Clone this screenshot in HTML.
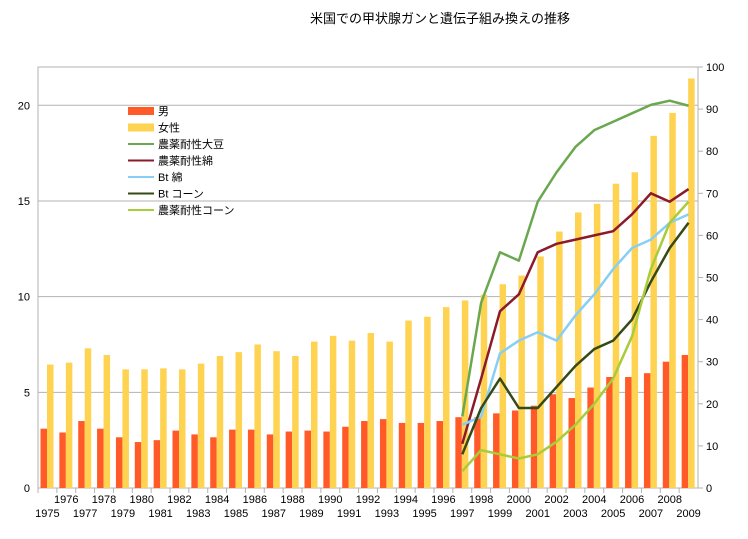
<!DOCTYPE html>
<html><head><meta charset="utf-8"><style>
body{margin:0;background:#fff;}
svg text{font-family:"Liberation Sans","Noto Sans CJK JP",sans-serif;font-size:11px;fill:#000;}
</style></head><body>
<svg id="chart" width="748" height="534">
<text x="440" y="23" text-anchor="middle" style="font-size:13px">米国での甲状腺ガンと遺伝子組み換えの推移</text>
<g id="grid"></g><g id="bars"></g><g id="lines"></g><g id="axes"></g><g id="legend"></g>
</svg>
<script>
const years=[];for(let y=1975;y<=2009;y++)years.push(y);
const male=[3.1,2.9,3.5,3.1,2.65,2.4,2.5,3.0,2.8,2.65,3.05,3.05,2.8,2.95,3.0,2.95,3.2,3.5,3.6,3.4,3.4,3.5,3.7,3.7,3.9,4.05,4.3,4.9,4.7,5.25,5.8,5.8,6.0,6.6,6.95];
const female=[6.45,6.55,7.3,6.95,6.2,6.2,6.25,6.2,6.5,6.9,7.1,7.5,7.15,6.9,7.65,7.95,7.7,8.1,7.65,8.75,8.95,9.45,9.8,10.1,10.65,11.1,12.1,13.4,14.4,14.85,15.9,16.5,18.4,19.6,21.4];
const lineYears=[1997,1998,1999,2000,2001,2002,2003,2004,2005,2006,2007,2008,2009];
const htSoy=[17,44,56,54,68,75,81,85,87,89,91,92,90.8];
const htCotton=[10.5,26,42,46,56,58,59,60,61,65,70,68,71];
const btCotton=[15,17,32,35,37,35,41,46,52,57,59,63,65];
const btCorn=[8,19,26,19,19,24,29,33,35,40,49,57,63];
const htCorn=[4,9,8,7,8,11,15,20,26,36,52,63,68];
const leftTicks=[0,5,10,15,20];
const rightTicks=[0,10,20,30,40,50,60,70,80,90,100];
const L=38,R=698,T=67,B=488,LMAX=22,RMAX=100;
const NS="http://www.w3.org/2000/svg";
const bw=(R-L)/years.length;
const xc=y=>L+(years.indexOf(y)+0.5)*bw;
const yl=v=>B-v/LMAX*(B-T);
const yr=v=>B-v/RMAX*(B-T);
function mk(tag,attrs,parent,txt){const e=document.createElementNS(NS,tag);for(const k in attrs)e.setAttribute(k,attrs[k]);if(txt!==undefined)e.textContent=txt;document.getElementById(parent).appendChild(e);return e;}
// grid
leftTicks.forEach(v=>{if(v>0){const g=mk('line',{x1:L,x2:R,y1:yl(v),y2:yl(v),stroke:'#b3b3b3'},'grid');

}
const t=mk('text',{x:L-8,y:yl(v)+4,'text-anchor':'end'},'axes',String(v));

});
const box=mk('rect',{x:L,y:T,width:R-L,height:B-T,fill:'none',stroke:'#b3b3b3'},'grid');


rightTicks.forEach(v=>{mk('line',{x1:R,x2:R+5,y1:yr(v),y2:yr(v),stroke:'#b3b3b3'},'axes');
const t=mk('text',{x:R+8,y:yr(v)+4},'axes',String(v));

});
// bars
years.forEach((y,i)=>{const x0=L+i*bw;
const m=mk('rect',{x:x0+2.5,y:yl(male[i]),width:6.5,height:B-yl(male[i]),fill:'#ff5a28'},'bars');


const f=mk('rect',{x:x0+9,y:yl(female[i]),width:6.5,height:B-yl(female[i]),fill:'#ffd352'},'bars');


mk('line',{x1:x0,x2:x0,y1:B,y2:B+5,stroke:'#b3b3b3'},'axes');
const t=mk('text',{x:xc(y),y:i%2?503:517,'text-anchor':'middle'},'axes',String(y));

});
// lines
const series=[[htSoy,'#6aa84f','ht-soy-line'],[htCotton,'#8b1a2b','ht-cotton-line'],[btCotton,'#87cff5','bt-cotton-line'],[btCorn,'#354a15','bt-corn-line'],[htCorn,'#a8cc3a','ht-corn-line']];
series.forEach(([d,c,n])=>{const p=mk('polyline',{points:d.map((v,i)=>xc(lineYears[i])+','+yr(v)).join(' '),fill:'none',stroke:c,'stroke-width':2.5,'stroke-linejoin':'round'},'lines');

});
// legend
const leg=[['男','#ff5a28',1],['女性','#ffd352',1],['農薬耐性大豆','#6aa84f',0],['農薬耐性綿','#8b1a2b',0],['Bt 綿','#87cff5',0],['Bt コーン','#354a15',0],['農薬耐性コーン','#a8cc3a',0]];
leg.forEach(([t,c,bar],i)=>{const y=111+i*16.5;
if(bar)mk('rect',{x:128,y:y-4,width:26,height:8,fill:c},'legend');else mk('line',{x1:128,x2:154,y1:y,y2:y,stroke:c,'stroke-width':2},'legend');
const e=mk('text',{x:158,y:y+4},'legend',t);

});
</script>
</body></html>
